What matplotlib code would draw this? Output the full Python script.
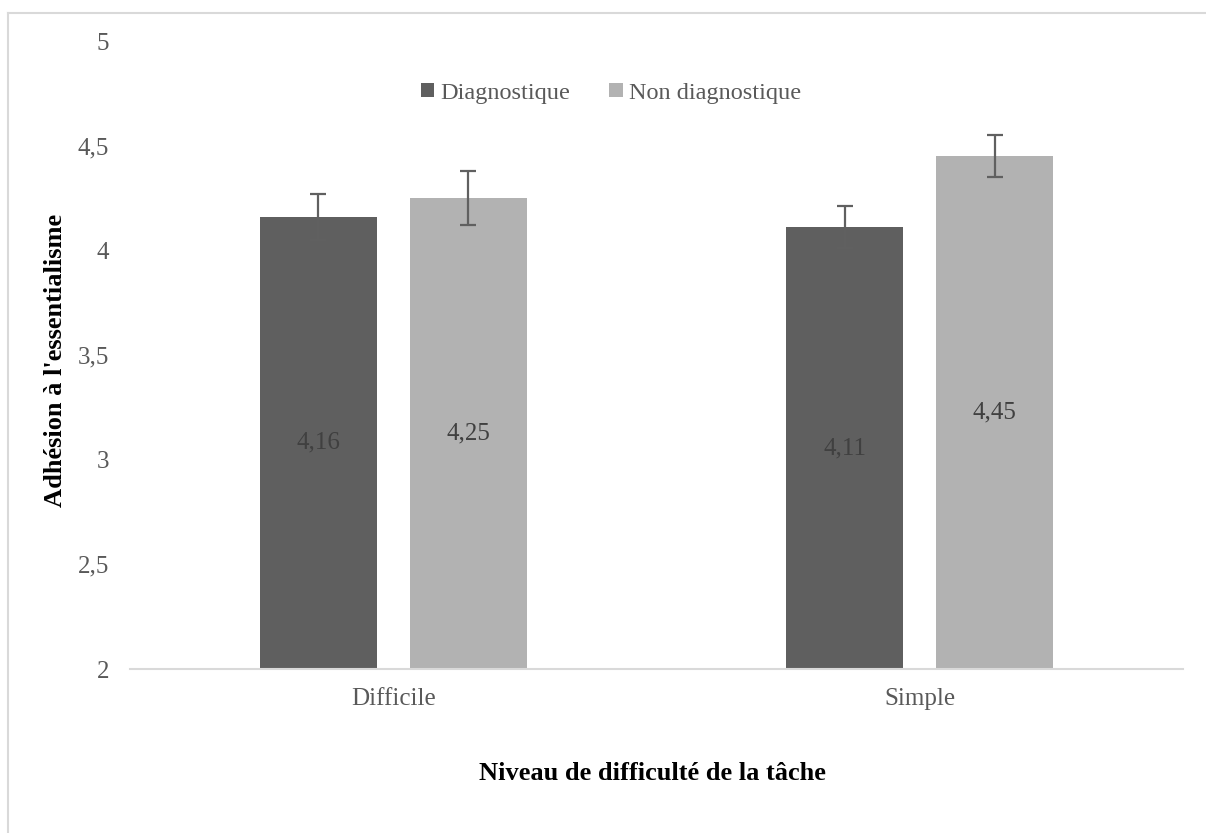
import matplotlib
matplotlib.use("Agg")
import matplotlib.pyplot as plt
from matplotlib.lines import Line2D
import numpy as np

plt.rcParams['font.family'] = ['Liberation Serif', 'DejaVu Serif']

categories = ["Difficile", "Simple"]
series_names = ["Diagnostique", "Non diagnostique"]
diag = [4.16, 4.11]
non_diag = [4.25, 4.45]
diag_err = [0.11, 0.10]
non_diag_err = [0.13, 0.10]
yticks = [2, 2.5, 3, 3.5, 4, 4.5, 5]

dark = '#5f5f5f'
light = '#b2b2b2'
text_grey = '#595959'

fig = plt.figure(figsize=(12.06, 8.33), dpi=100)
ax = fig.add_axes([130 / 1206, 164 / 833, 1053 / 1206, 628 / 833])

x = np.arange(len(categories))
w = 0.223
off = (w + 0.062) / 2
ax.bar(x - off, diag, w, bottom=0, color=dark, label=series_names[0], zorder=2)
ax.bar(x + off, non_diag, w, bottom=0, color=light, label=series_names[1], zorder=2)
ax.errorbar(x - off, diag, yerr=diag_err, fmt='none', ecolor='#606060',
            elinewidth=1.6, capsize=6, capthick=1.6, zorder=3)
ax.errorbar(x + off, non_diag, yerr=non_diag_err, fmt='none', ecolor='#606060',
            elinewidth=1.6, capsize=6, capthick=1.6, zorder=3)

# data labels in the middle of each bar
for xs, vals in [(x - off, diag), (x + off, non_diag)]:
    for xi, v in zip(xs, vals):
        ax.text(xi, (2 + v) / 2, f"{v:.2f}".replace('.', ','), ha='center', va='center',
                fontsize=18, color='#404040', zorder=4)

ax.set_xlim(-0.5, 1.5)
ax.set_ylim(2, 5)
ax.set_yticks(yticks)
ax.set_yticklabels([f"{t:g}".replace('.', ',') for t in yticks])
ax.set_xticks(x)
ax.set_xticklabels(categories)
ax.tick_params(axis='y', length=0, pad=15, labelsize=18, labelcolor=text_grey)
ax.tick_params(axis='x', length=0, pad=14, labelsize=18, labelcolor=text_grey)

for s in ['top', 'right', 'left']:
    ax.spines[s].set_visible(False)
ax.spines['bottom'].set_color('#d9d9d9')
ax.spines['bottom'].set_linewidth(1.5)

fig.text(56 / 1206, 1 - 360 / 833, "Adhésion à l'essentialisme", rotation=90,
         ha='center', va='center', fontsize=19, fontweight='bold', color='black')
fig.text(652 / 1206, 1 - 774 / 833, "Niveau de difficulté de la tâche",
         ha='center', va='center', fontsize=19, fontweight='bold', color='black')

ax.legend(loc='center', bbox_to_anchor=((611 - 130) / 1053, (833 - 93 - 164) / 628), ncol=2,
          frameon=False, fontsize=17.5, handlelength=0.55, handleheight=0.55,
          handletextpad=0.25, columnspacing=1.6, labelcolor=text_grey)

# chart area border (only top and left visible)
fig.add_artist(Line2D([8 / 1206, 1], [1 - 13 / 833, 1 - 13 / 833],
                      transform=fig.transFigure, color='#d9d9d9', lw=1.5))
fig.add_artist(Line2D([8 / 1206, 8 / 1206], [0, 1 - 13 / 833],
                      transform=fig.transFigure, color='#d9d9d9', lw=1.5))

fig.savefig("out.png", dpi=100, facecolor='white')
